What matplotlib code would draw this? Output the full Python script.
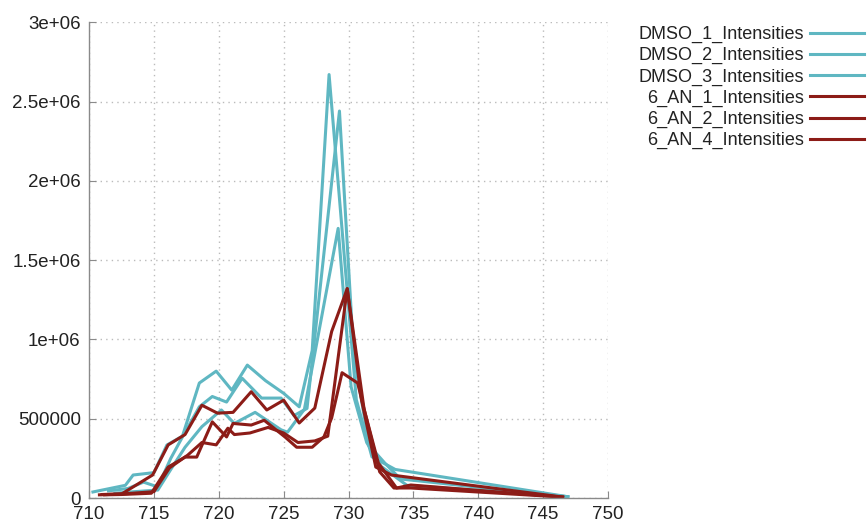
import matplotlib
matplotlib.use("Agg")
import matplotlib.pyplot as plt

plt.rcParams['font.family'] = ['Liberation Sans', 'DejaVu Sans']

# series (x = position, y = intensity)
dmso1_x = [710.3, 712.8, 713.4, 715.0, 716.0, 717.2, 718.5, 719.8, 721.0, 722.2, 723.6, 725.0, 726.2, 727.2, 728.5, 730.6, 731.8, 733.6, 746.9]
dmso1_y = [38000, 80000, 145000, 160000, 334000, 390000, 725000, 800000, 680000, 838000, 740000, 660000, 575000, 930000, 2670000, 620000, 260000, 180000, 8000]

dmso2_x = [711.5, 713.0, 714.2, 715.3, 716.3, 717.2, 718.5, 719.5, 720.6, 721.8, 723.3, 724.8, 725.8, 726.8, 729.3, 730.4, 731.6, 732.8, 734.0, 746.9]
dmso2_y = [45000, 60000, 100000, 70000, 250000, 385000, 575000, 640000, 605000, 755000, 630000, 630000, 520000, 565000, 2440000, 900000, 330000, 220000, 120000, 8000]

dmso3_x = [712.0, 713.5, 715.3, 716.3, 717.4, 718.7, 720.2, 721.2, 722.8, 724.8, 725.3, 726.6, 729.2, 730.2, 731.4, 732.5, 734.5, 746.9]
dmso3_y = [30000, 40000, 50000, 180000, 320000, 450000, 555000, 470000, 540000, 430000, 415000, 560000, 1700000, 700000, 350000, 200000, 80000, 8000]

an1_x = [710.8, 712.5, 713.8, 714.9, 716.1, 717.4, 718.7, 719.9, 721.1, 722.5, 723.7, 725.0, 726.2, 727.4, 728.7, 729.9, 731.0, 732.1, 733.3, 746.5]
an1_y = [20000, 25000, 90000, 145000, 335000, 400000, 585000, 535000, 540000, 670000, 555000, 617000, 473000, 567000, 1050000, 1320000, 620000, 195000, 145000, 6000]

an2_x = [711.2, 712.5, 714.8, 716.1, 717.4, 718.3, 719.5, 720.6, 721.1, 722.5, 723.5, 725.1, 726.0, 727.2, 728.1, 728.7, 729.5, 730.7, 732.4, 733.5, 734.8, 746.5]
an2_y = [20000, 22000, 30000, 195000, 258000, 258000, 480000, 385000, 470000, 460000, 490000, 385000, 320000, 320000, 385000, 505000, 790000, 725000, 165000, 63000, 63000, 6000]

an4_x = [711.0, 713.0, 715.0, 716.2, 717.6, 718.7, 719.8, 720.7, 721.2, 722.4, 723.8, 725.0, 726.1, 727.4, 728.4, 729.9, 731.2, 732.3, 733.7, 734.8, 746.5]
an4_y = [22000, 28000, 40000, 190000, 270000, 350000, 335000, 440000, 400000, 410000, 445000, 410000, 350000, 360000, 390000, 1320000, 560000, 220000, 63000, 82000, 6000]

labels = ["DMSO_1_Intensities", "DMSO_2_Intensities", "DMSO_3_Intensities",
          "6_AN_1_Intensities", "6_AN_2_Intensities", "6_AN_4_Intensities"]

x_ticks = [710, 715, 720, 725, 730, 735, 740, 745, 750]
y_ticks = [0, 500000, 1000000, 1500000, 2000000, 2500000, 3000000]
y_tick_labels = ["0", "500000", "1e+06", "1.5e+06", "2e+06", "2.5e+06", "3e+06"]

teal = "#5fb7c2"
red = "#8c1c17"

fig = plt.figure(figsize=(8.67, 5.29), dpi=100)
ax = fig.add_axes([0.1027, 0.0586, 0.5986, 0.8994])

series = [(dmso1_x, dmso1_y), (dmso2_x, dmso2_y), (dmso3_x, dmso3_y),
          (an1_x, an1_y), (an2_x, an2_y), (an4_x, an4_y)]
colors = [teal, teal, teal, red, red, red]
for (xs, ys), c, lab in zip(series, colors, labels):
    ax.plot(xs, ys, color=c, lw=2.2, label=lab)

ax.set_xlim(710, 750)
ax.set_ylim(0, 3000000)
ax.set_xticks(x_ticks)
ax.set_yticks(y_ticks)
ax.set_yticklabels(y_tick_labels)

for s in ["top", "right"]:
    ax.spines[s].set_visible(False)
for s in ["left", "bottom"]:
    ax.spines[s].set_color("#8a8a8a")
    ax.spines[s].set_linewidth(1.0)
ax.tick_params(direction="in", length=5, color="#8a8a8a", labelsize=13.5,
               labelcolor="#222222", pad=6)
ax.grid(True, color="#bbbbbb", linestyle=(0, (1, 3)), linewidth=1.0)
ax.set_axisbelow(True)

leg = fig.legend(loc="upper right", bbox_to_anchor=(0.997, 0.951), frameon=False,
                 markerfirst=False, fontsize=13, handlelength=3.0,
                 labelspacing=0.225, handletextpad=0.35, borderaxespad=0.0,
                 borderpad=0.0)
for t in leg.get_texts():
    t.set_color("#222222")

fig.savefig("out.png", dpi=100)
